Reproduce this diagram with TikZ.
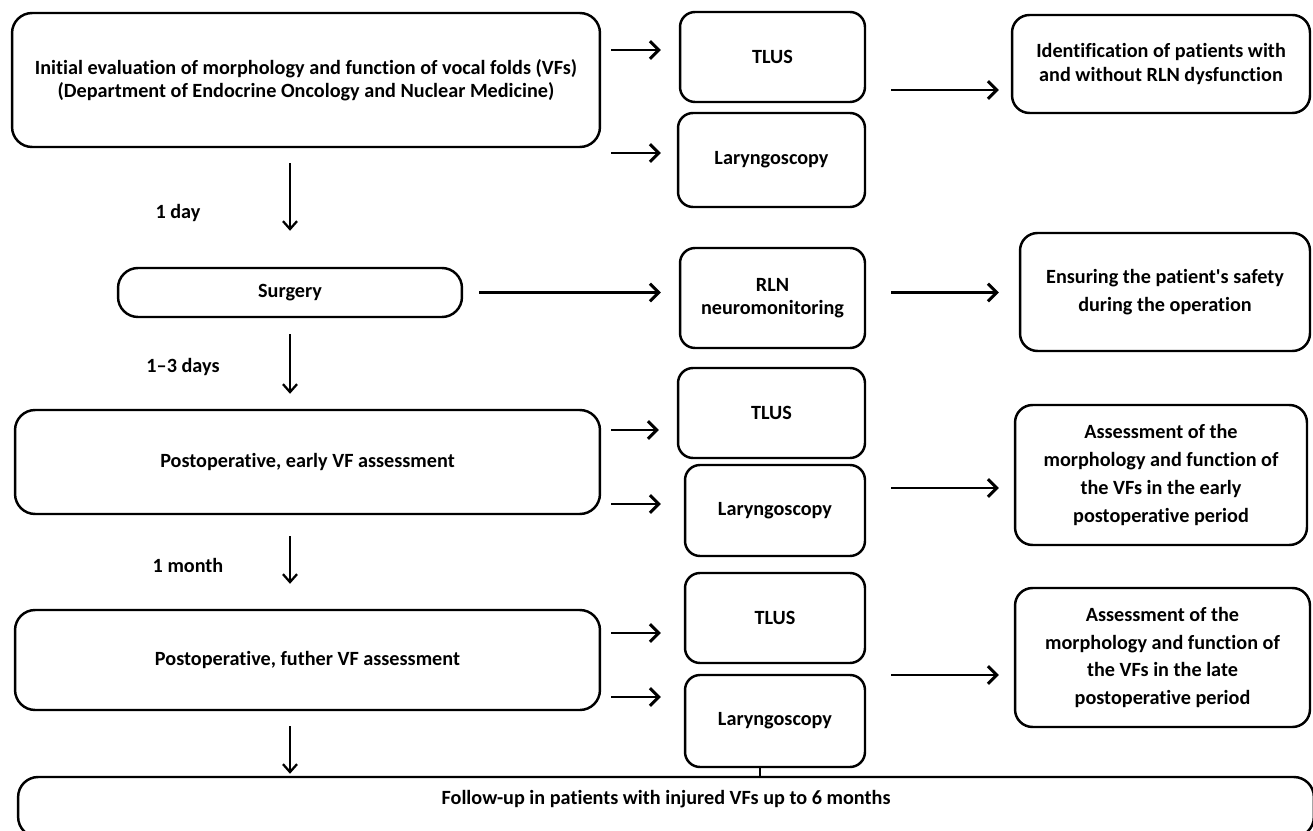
\documentclass[tikz,border=0pt]{standalone}
\usepackage{fontspec}
\setmainfont{Carlito}[Ligatures={NoCommon}]
\usetikzlibrary{arrows.meta,calc,positioning}

\tikzset{
  stage/.style={draw, line width=1.4pt, rounded corners=0.4cm, align=center,
    font=\bfseries\fontsize{11.5}{12.8}\selectfont},
  exam/.style={stage, rounded corners=0.3cm, minimum width=3.7cm, minimum height=1.8cm,
    font=\bfseries\fontsize{11.5}{13.2}\selectfont},
  result/.style={stage, rounded corners=0.35cm, font=\bfseries\fontsize{11.5}{15.8}\selectfont},
  flow/.style={-{Straight Barb[length=5pt,width=10pt]}, line width=1.7pt},
  down/.style={-{Straight Barb[length=4.5pt,width=8pt]}, line width=1.3pt},
  gap/.style={font=\bfseries\fontsize{11.5}{12}\selectfont}
}

\begin{document}
\begin{tikzpicture}[x=0.02cm, y=-0.02cm]
    \clip (0,0) rectangle (1313,831);

    % left column
    \node[stage, minimum width=11.76cm, minimum height=2.68cm] (init) at (306,80)
      {Initial evaluation of morphology and function of vocal folds (VFs)\\
       (Department of Endocrine Oncology and Nuclear Medicine)};
    \node[stage, minimum width=6.88cm, minimum height=0.98cm] (surg) at (290,292.5) {Surgery};
    \node[stage, minimum width=11.7cm, minimum height=2.08cm] (early) at (307.5,462)
      {Postoperative, early VF assessment};
    \node[stage, minimum width=11.7cm, minimum height=2cm] (further) at (307.5,660)
      {Postoperative, futher VF assessment};
    \node[stage, minimum width=25.92cm, minimum height=1.2cm, text depth=0.38cm] (follow) at (666,807)
      {Follow-up in patients with injured VFs up to 6 months};

    \node[gap] (lday) at (178,213) {1 day};
    \node[gap] (ldays) at (183,367) {1--3 days};
    \node[gap] (lmonth) at (188,565) {1 month};

    % middle column
    \node[exam] (tlusA) at (772.5,57) {TLUS};
    \node[exam, minimum width=3.74cm, minimum height=1.88cm] (larA) at (771.5,160) {Laryngoscopy};
    \node[exam, minimum height=2cm] (rln) at (772.5,298) {RLN\\neuromonitoring};
    \node[exam, minimum width=3.74cm] (tlusB) at (771.5,413) {TLUS};
    \node[exam, minimum width=3.6cm, minimum height=1.82cm] (larB) at (775,510.5) {Laryngoscopy};
    \node[exam, minimum width=3.6cm] (tlusC) at (775,618) {TLUS};
    \node[exam, minimum width=3.6cm, minimum height=1.84cm] (larC) at (775,721) {Laryngoscopy};

    % right column
    \node[result, minimum width=5.96cm, minimum height=1.96cm,
      font=\bfseries\fontsize{11.5}{13.8}\selectfont] (ident) at (1161,64)
      {Identification of patients with\\and without RLN dysfunction};
    \node[result, minimum width=5.8cm, minimum height=2.36cm] (ensure) at (1165,292)
      {Ensuring the patient\textquotesingle s safety\\during the operation};
    \node[result, minimum width=5.84cm, minimum height=2.8cm] (assessA) at (1161,475)
      {Assessment of the\\morphology and function of\\the VFs in the early\\postoperative period};
    \node[result, minimum width=5.9cm, minimum height=2.78cm] (assessB) at (1162.5,657.5)
      {Assessment of the\\morphology and function of\\the VFs in the late\\postoperative period};

    % time line
    \draw[down, shorten <=0.3cm, shorten >=0.72cm] (init.south -| surg.center) -- (surg.north);
    \draw[down, shorten <=0.32cm, shorten >=0.3cm] (surg.south) -- (early.north -| surg.south);
    \draw[down, shorten <=0.42cm, shorten >=0.5cm] (early.south -| surg.south) -- (further.north -| surg.south);
    \draw[down, shorten <=0.3cm, shorten >=0.04cm] (further.south -| surg.south) -- (follow.north -| surg.south);

    % examinations
    \draw[flow, shorten <=0.2cm, shorten >=0.36cm] ($(init.east |- tlusA)+(0,-7)$) -- ($(tlusA.west)+(0,-7)$);
    \draw[flow, shorten <=0.2cm, shorten >=0.32cm] ($(init.east |- larA)+(0,-7)$) -- ($(larA.west)+(0,-7)$);
    \draw[flow, shorten <=0.32cm, shorten >=0.36cm] (surg.east) -- (surg.east -| rln.west);
    \draw[flow, shorten <=0.2cm, shorten >=0.36cm] ($(early.east |- tlusB)+(0,17)$) -- ($(tlusB.west)+(0,17)$);
    \draw[flow, shorten <=0.2cm, shorten >=0.46cm] ($(early.east |- larB)+(0,-6.5)$) -- ($(larB.west)+(0,-6.5)$);
    \draw[flow, shorten <=0.2cm, shorten >=0.46cm] ($(further.east |- tlusC)+(0,15)$) -- ($(tlusC.west)+(0,15)$);
    \draw[flow, shorten <=0.2cm, shorten >=0.46cm] ($(further.east |- larC)+(0,-24)$) -- ($(larC.west)+(0,-24)$);

    % outcomes
    \draw[flow, shorten <=0.5cm, shorten >=0.24cm] ($(tlusA.east |- ident.west)+(0,26)$) -- ($(ident.west)+(0,26)$);
    \draw[flow, shorten <=0.5cm, shorten >=0.4cm] (rln.east |- surg.east) -- (ensure.west |- surg.east);
    \draw[flow, shorten <=0.5cm, shorten >=0.3cm] ($(larB.east |- assessA.west)+(0,13)$) -- ($(assessA.west)+(0,13)$);
    \draw[flow, shorten <=0.5cm, shorten >=0.3cm] ($(larC.east |- assessB.west)+(0,17.5)$) -- ($(assessB.west)+(0,17.5)$);

    \draw[line width=1.2pt] ($(larC.south)+(-15,0)$) -- ($(larC.south |- follow.north)+(-15,0)$);
\end{tikzpicture}
\end{document}
